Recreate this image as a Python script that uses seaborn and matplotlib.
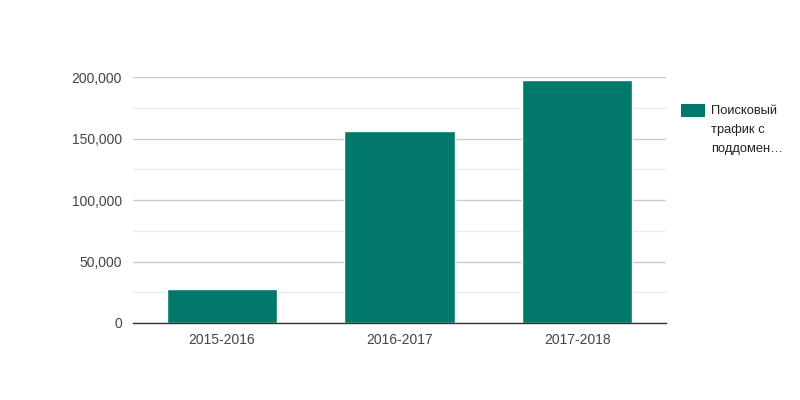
import matplotlib
matplotlib.use("Agg")
import matplotlib.pyplot as plt
import seaborn as sns
import pandas as pd
from matplotlib.ticker import FuncFormatter, MultipleLocator
from matplotlib.patches import Rectangle

categories = ["2015-2016", "2016-2017", "2017-2018"]
values = [27700, 156300, 197800]
series_name = "Поисковый трафик с поддомен…"
legend_lines = ["Поисковый", "трафик с", "поддомен…"]

sns.set_theme(style="white")
plt.rcParams['font.family'] = ['Liberation Sans', 'DejaVu Sans']

df = pd.DataFrame({"period": categories, "traffic": values})

fig = plt.figure(figsize=(8, 4), dpi=100)
ax = fig.add_axes([133/800, 77/400, 533/800, (323-77.3)/400])
color = "#00796b"
sns.barplot(data=df, x="period", y="traffic", color=color, width=0.62,
            saturation=1, ax=ax, zorder=3)
ax.set_ylim(0, 200000)
ax.set_xlim(-0.5, 2.5)
ax.yaxis.set_major_locator(MultipleLocator(50000))
ax.yaxis.set_minor_locator(MultipleLocator(25000))
ax.yaxis.set_major_formatter(FuncFormatter(lambda v, p: f"{int(v):,}"))
ax.grid(which="major", axis="y", color="#cccccc", linewidth=1, zorder=0)
ax.grid(which="minor", axis="y", color="#ebebeb", linewidth=1, zorder=0)
for s in ["top", "right", "left"]:
    ax.spines[s].set_visible(False)
ax.spines["bottom"].set_color("#333333")
ax.spines["bottom"].set_linewidth(1)
ax.spines["bottom"].set_zorder(4)
ax.set_xlabel("")
ax.set_ylabel("")
ax.tick_params(axis="both", which="both", length=0, labelsize=10, labelcolor="#444444")
ax.tick_params(axis="x", pad=7)
ax.tick_params(axis="y", pad=8)

# legend
fig.patches.append(Rectangle((681/800, (400-117)/400), 24/800, 13/400,
                             transform=fig.transFigure, facecolor=color,
                             edgecolor="none", figure=fig))
for i, line in enumerate(legend_lines):
    fig.text(711/800, (400-111-19*i)/400, line, fontsize=9.3, color="#222222",
             va="center", ha="left")

fig.savefig("out.png", dpi=100, facecolor="white")
